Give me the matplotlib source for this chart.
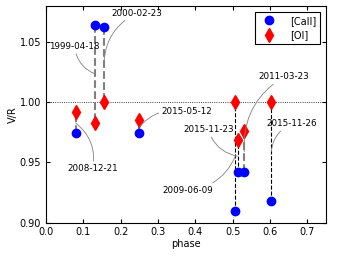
import numpy as np
import matplotlib
matplotlib.use('Agg')
import matplotlib.pyplot as plt

# phase, V/R of [CaII] and [OI] per epoch
dates = ['2008-12-21', '1999-04-18', '2000-02-23', '2015-05-12',
         '2009-06-09', '2015-11-23', '2011-03-23', '2015-11-26']
phase = [0.079, 0.131, 0.155, 0.250, 0.507, 0.513, 0.531, 0.6035]
caii = [0.974, 1.064, 1.0626, 0.974, 0.910, 0.9416, 0.9416, 0.918]
oi = [0.9916, 0.983, 1.000, 0.985, 1.000, 0.9687, 0.976, 1.000]
line_color = ['gray', 'gray', 'gray', 'gray', 'k', 'k', 'gray', 'k']
text_pos = [(0.125, 0.945), (0.077, 1.0463), (0.243, 1.074), (0.377, 0.992),
            (0.379, 0.927), (0.435, 0.977), (0.637, 1.021), (0.659, 0.982)]
rads = [0.3, 0.3, 0.3, 0.3, 0.3, 0.3, 0.3, 0.3]

plt.rcParams['font.family'] = 'DejaVu Sans'
fig = plt.figure(figsize=(3.41, 2.57), dpi=100)
ax = fig.add_axes([0.135, 0.134, 0.821, 0.843])

for i in range(len(phase)):
    lw = 1.5 if line_color[i] == 'gray' else 0.8
    ax.plot([phase[i], phase[i]], [caii[i], oi[i]], ls='--',
            color=line_color[i], lw=lw, zorder=1)

ax.axhline(1.0, color='k', ls=':', lw=0.6, zorder=0)
ax.plot(phase, caii, 'o', color='b', mec='b', ms=6, label='[CaII]', zorder=3)
ax.plot(phase, oi, 'd', color='r', mec='r', ms=7, label='[OI]', zorder=3)

for i in range(len(phase)):
    mid = (caii[i] + oi[i]) / 2
    ax.annotate(dates[i], xy=(phase[i], mid), xytext=text_pos[i],
                ha='center', va='center', fontsize=6.3,
                arrowprops=dict(arrowstyle='-', color='gray', lw=0.6,
                                connectionstyle=f'arc3,rad={rads[i]}',
                                shrinkA=0, shrinkB=0))

ax.set_xlim(0, 0.75)
ax.set_ylim(0.9, 1.08)
ax.set_xticks(np.arange(0, 0.71, 0.1))
ax.set_yticks([0.90, 0.95, 1.00, 1.05])
ax.tick_params(direction='in', top=True, right=True, labelsize=7, length=3)
ax.set_xlabel('phase', fontsize=7, labelpad=1)
ax.set_ylabel('V/R', fontsize=7, labelpad=1)
leg = ax.legend(loc='upper right', fontsize=7, numpoints=1, fancybox=False,
                framealpha=1, edgecolor='k', borderaxespad=0.6,
                handletextpad=1.2)
leg.get_frame().set_linewidth(0.8)

plt.savefig('out.png', dpi=100)
